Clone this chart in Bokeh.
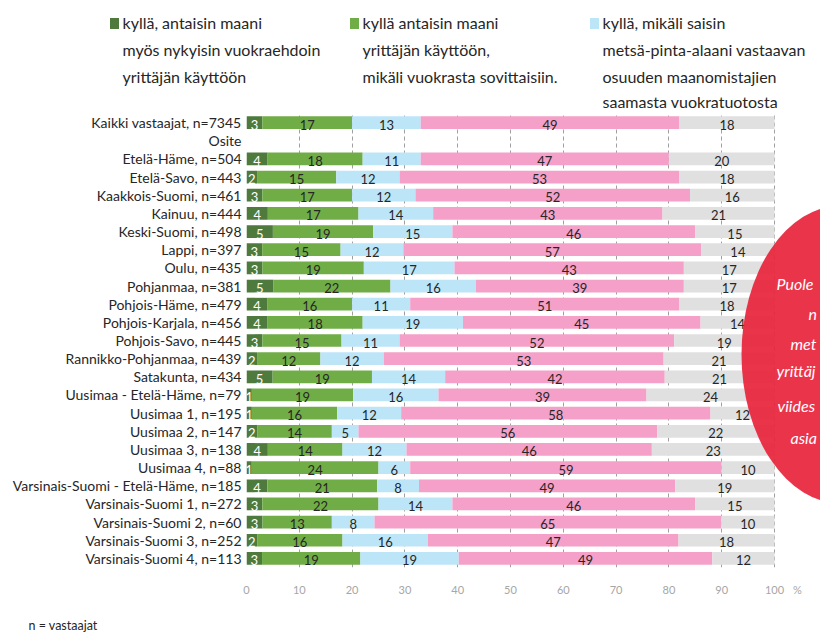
from bokeh.plotting import figure
from bokeh.layouts import column
from bokeh.models import ColumnDataSource, FactorRange, Range1d, FixedTicker
from bokeh.core.properties import value
from bokeh.embed import file_html
from bokeh.resources import INLINE

FONT = "Lato"

categories = [
    "Kaikki vastaajat, n=7345", "Osite", "Etelä-Häme, n=504", "Etelä-Savo, n=443",
    "Kaakkois-Suomi, n=461", "Kainuu, n=444", "Keski-Suomi, n=498", "Lappi, n=397",
    "Oulu, n=435", "Pohjanmaa, n=381", "Pohjois-Häme, n=479", "Pohjois-Karjala, n=456",
    "Pohjois-Savo, n=445", "Rannikko-Pohjanmaa, n=439", "Satakunta, n=434",
    "Uusimaa - Etelä-Häme, n=79", "Uusimaa 1, n=195", "Uusimaa 2, n=147",
    "Uusimaa 3, n=138", "Uusimaa 4, n=88", "Varsinais-Suomi - Etelä-Häme, n=185",
    "Varsinais-Suomi 1, n=272", "Varsinais-Suomi 2, n=60", "Varsinais-Suomi 3, n=252",
    "Varsinais-Suomi 4, n=113",
]
# None = heading row without bar
nykyisin = [3, None, 4, 2, 3, 4, 5, 3, 3, 5, 4, 4, 3, 2, 5, 1, 1, 2, 4, 1, 4, 3, 3, 2, 3]
sovittaisiin = [17, None, 18, 15, 17, 17, 19, 15, 19, 22, 16, 18, 15, 12, 19, 19, 16, 14, 14, 24, 21, 22, 13, 16, 19]
vuokratuotto = [13, None, 11, 12, 12, 14, 15, 12, 17, 16, 11, 19, 11, 12, 14, 16, 12, 5, 12, 6, 8, 14, 8, 16, 19]
ei = [49, None, 47, 53, 52, 43, 46, 57, 43, 39, 51, 45, 52, 53, 42, 39, 58, 56, 46, 59, 49, 46, 65, 47, 49]
eos = [18, None, 20, 18, 16, 21, 15, 14, 17, 17, 18, 14, 19, 21, 21, 24, 12, 22, 23, 10, 19, 15, 10, 18, 12]

series = [nykyisin, sovittaisiin, vuokratuotto, ei, eos]
colors = ["#4e7a3e", "#70ad47", "#bde5f8", "#f4a0c8", "#e0e0e0"]
label_colors = ["#ffffff", "#262626", "#262626", "#262626", "#262626"]

legend_items = [
    ["kyllä, antaisin maani", "myös nykyisin vuokraehdoin", "yrittäjän käyttöön"],
    ["kyllä antaisin maani", "yrittäjän käyttöön,", "mikäli vuokrasta sovittaisiin."],
    ["kyllä, mikäli saisin", "metsä-pinta-alaani vastaavan", "osuuden maanomistajien", "saamasta vuokratuotosta"],
]
x_ticks = [0, 10, 20, 30, 40, 50, 60, 70, 80, 90, 100]
unit_label = "%"
callout_lines = ["Puole", "n", "met", "yrittäj", "viides", "asia"]
footnote = "n = vastaajat"

W = 820
LEG_H = 113          # legend strip
FOOT_H = 30          # footnote strip
MAIN_H = 633 - LEG_H - FOOT_H
LEFT = 246
FRAME_H = 454
PX = 5.28            # pixels per percent
ROW = FRAME_H / len(categories)


def blank(h):
    f = figure(width=W, height=h, x_range=Range1d(0, W), y_range=Range1d(h, 0),
               output_backend="svg", toolbar_location=None, frame_align=False,
               min_border=0, min_border_left=0, min_border_right=0,
               min_border_top=0, min_border_bottom=0)
    f.axis.visible = False
    f.grid.visible = False
    f.outline_line_color = None
    f.background_fill_color = "white"
    f.border_fill_color = "white"
    return f


# ---------- legend strip ----------
leg = blank(LEG_H)
leg_x = [122, 362, 602]
line_y = [22, 49, 76, 101]
leg.rect(x=[v - 8 for v in leg_x], y=[23] * 3, width=9, height=11,
         fill_color=colors[:3], line_color=None)
lx, ly, lt = [], [], []
for li, lines in enumerate(legend_items):
    for k, t in enumerate(lines):
        lx.append(leg_x[li])
        ly.append(line_y[k])
        lt.append(t)
leg.text(x=lx, y=ly, text=lt, text_align="left", text_baseline="middle",
         text_color="#262626", text_font=value(FONT), text_font_size="16px")

# ---------- main chart ----------
p = figure(
    width=W, height=MAIN_H,
    y_range=FactorRange(factors=list(reversed(categories)), range_padding=0),
    x_range=Range1d(0, (W - LEFT) / PX),
    output_backend="svg", toolbar_location=None, frame_align=False,
    min_border_left=LEFT, min_border_right=0, min_border_top=0,
    min_border_bottom=MAIN_H - FRAME_H,
)
p.outline_line_color = None
p.background_fill_color = "white"
p.border_fill_color = "white"


def dx(X):
    return (X - LEFT) / PX


def dy(Y):  # picture y -> synthetic categorical coordinate
    return len(categories) - (Y - LEG_H) / ROW


for si, (vals, col, lcol) in enumerate(zip(series, colors, label_colors)):
    ys, lefts, rights, mids, texts = [], [], [], [], []
    for ri, cat in enumerate(categories):
        if vals[ri] is None:
            continue
        row = [s[ri] for s in series]
        tot = sum(row)
        left = sum(row[:si]) * 100.0 / tot
        right = left + vals[ri] * 100.0 / tot
        ys.append(cat)
        lefts.append(left)
        rights.append(right)
        mids.append((left + right) / 2)
        texts.append(str(vals[ri]))
    src = ColumnDataSource(dict(y=ys, left=lefts, right=rights, mid=mids, text=texts))
    p.hbar(y="y", left="left", right="right", height=0.7, source=src,
           fill_color=col, line_color=None)
    p.text(x="mid", y="y", text="text", source=src, text_align="center",
           text_baseline="middle", y_offset=2, text_color=lcol,
           text_font=value(FONT), text_font_size="13px")

# red call-out ellipse on the right
p.ellipse(x=[dx(841)], y=[dy(354)], width=[200], height=[298],
          width_units="screen", height_units="screen",
          fill_color="#e8253c", fill_alpha=0.93, line_color=None)
cxs = [776, 808, 790, 776, 777, 790]
cys = [283, 313, 343, 370, 405, 437]
p.text(x=[dx(v) for v in cxs], y=[dy(v) for v in cys], text=callout_lines,
       text_align="left", text_baseline="middle",
       text_color="white", text_font=value(FONT), text_font_style="italic",
       text_font_size="16px")

# grid
p.ygrid.grid_line_color = None
p.xgrid.ticker = FixedTicker(ticks=x_ticks)
p.xgrid.grid_line_color = "#a0a0a0"
p.xgrid.grid_line_dash = "4 3"
p.xgrid.grid_line_width = 1

# axes
unit_pos = dx(797)
p.xaxis.ticker = FixedTicker(ticks=x_ticks + [unit_pos])
p.xaxis.major_label_overrides = {unit_pos: unit_label}
p.xaxis.axis_line_color = None
p.xaxis.major_tick_line_color = None
p.xaxis.minor_tick_line_color = None
p.xaxis.major_tick_out = 0
p.xaxis.major_label_standoff = 15
p.xaxis.major_label_text_color = "#a6a6a6"
p.xaxis.major_label_text_font = FONT
p.xaxis.major_label_text_font_size = "11px"

p.yaxis.axis_line_color = None
p.yaxis.major_tick_line_color = None
p.yaxis.major_tick_out = 0
p.yaxis.major_label_standoff = 5
p.yaxis.major_label_text_color = "#262626"
p.yaxis.major_label_text_font = FONT
p.yaxis.major_label_text_font_size = "14px"

# ---------- footnote strip ----------
foot = blank(FOOT_H)
foot.text(x=[28], y=[22], text=[footnote], text_align="left", text_baseline="middle",
          text_color="#262626", text_font=value(FONT), text_font_size="12.5px")

layout = column(leg, p, foot, spacing=0)
open("out.html", "w").write(file_html(layout, INLINE))
